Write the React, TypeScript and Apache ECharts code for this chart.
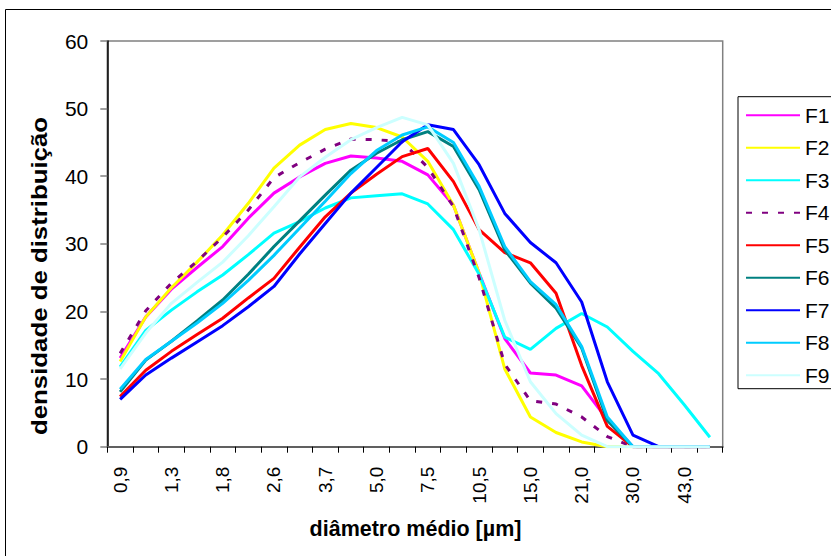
import { useEffect, useRef } from 'react';
import * as echarts from 'echarts';

const categories = ['0,9', '1,1', '1,3', '1,5', '1,8', '2,2', '2,6', '3,1', '3,7', '4,3', '5,0', '6,0', '7,5', '9,0', '10,5', '12,5', '15,0', '18,0', '21,0', '25,0', '30,0', '36,0', '43,0', '51,0'];

const seriesNames = ['F1', 'F2', 'F3', 'F4', 'F5', 'F6', 'F7', 'F8', 'F9'];

const F1 = [13.1, 19.2, 23.3, 26.5, 29.6, 33.8, 37.5, 39.9, 41.9, 43.0, 42.7, 42.2, 40.2, 35.7, 25.7, 16.0, 10.9, 10.6, 9.0, 4.0, 0, 0, 0, 0];
const F2 = [12.6, 19.2, 23.5, 27.3, 31.3, 36.0, 41.2, 44.6, 46.9, 47.8, 47.2, 45.8, 42.2, 35.7, 25.7, 11.5, 4.4, 2.1, 0.7, 0, 0, 0, 0, 0];
const F3 = [11.8, 17.2, 20.2, 22.9, 25.4, 28.4, 31.6, 33.3, 35.3, 36.8, 37.1, 37.4, 35.9, 32.1, 25.5, 16.2, 14.4, 17.5, 19.7, 17.7, 14.1, 10.8, 6.2, 1.4];
const F4 = [13.8, 20.1, 24.2, 27.4, 31.0, 35.0, 39.8, 42.0, 44.0, 45.5, 45.4, 45.1, 41.3, 35.5, 25.0, 12.2, 6.8, 6.3, 4.4, 1.5, 0, 0, 0, 0];
const F5 = [7.4, 11.3, 14.1, 16.6, 19.0, 22.0, 24.9, 29.5, 34.0, 37.5, 40.3, 42.9, 44.1, 39.2, 32.1, 28.7, 27.2, 22.7, 12.0, 3.0, 0, 0, 0, 0];
const F6 = [8.1, 12.8, 15.6, 18.6, 21.7, 25.5, 29.6, 33.4, 37.2, 40.9, 43.4, 45.4, 46.6, 44.4, 38.0, 29.1, 24.2, 20.5, 14.6, 3.9, 0, 0, 0, 0];
const F7 = [7.0, 10.6, 13.1, 15.5, 17.9, 20.7, 23.7, 28.5, 33.0, 37.5, 41.3, 45.1, 47.6, 46.9, 41.7, 34.5, 30.2, 27.2, 21.4, 9.6, 1.7, 0, 0, 0];
const F8 = [8.5, 12.9, 15.6, 18.3, 21.2, 24.6, 28.3, 32.3, 36.3, 40.4, 43.8, 46.1, 47.3, 45.0, 38.5, 29.6, 24.4, 21.0, 14.8, 4.4, 0, 0, 0, 0];
const F9 = [11.5, 16.8, 21.2, 24.3, 27.3, 31.2, 35.5, 39.9, 42.8, 45.4, 47.2, 48.7, 47.6, 41.9, 32.1, 18.7, 9.6, 4.9, 1.7, 0, 0, 0, 0, 0];

const seriesValues = [F1, F2, F3, F4, F5, F6, F7, F8, F9];
const seriesColors = ['#FF00FF', '#FFFF00', '#00FFFF', '#800080', '#FF0000', '#008080', '#0000FF', '#00CCFF', '#CCFFFF'];

const yTicks = { min: 0, max: 60, interval: 10 };

const FONT = '"Liberation Sans", Arial, sans-serif';

export default function App() {
  const ref = useRef<HTMLDivElement>(null);

  useEffect(() => {
    const chart = echarts.init(ref.current!, null, { renderer: 'svg' });
    chart.setOption({
      animation: false,
      backgroundColor: '#ffffff',
      grid: {
        left: 107.3,
        right: 108.3,
        top: 41,
        bottom: 109.3,
        show: true,
        borderColor: '#808080',
        borderWidth: 1.5,
        containLabel: false,
        outerBoundsMode: 'none',
      },
      legend: {
        orient: 'vertical',
        left: 738,
        top: 96.7,
        itemWidth: 54,
        itemHeight: 14,
        itemGap: 11.5,
        padding: [8, 40, 3, 7],
        borderColor: '#000',
        borderWidth: 1,
        itemStyle: { opacity: 0 },
        textStyle: { fontSize: 21, fontFamily: FONT, color: '#000', lineHeight: 21 },
        data: seriesNames,
      },
      xAxis: {
        type: 'category',
        data: categories,
        boundaryGap: true,
        axisLine: { show: true, lineStyle: { color: '#606060', width: 2 } },
        axisTick: { show: true, interval: 0, length: 6, inside: false, lineStyle: { color: '#000', width: 1 } },
        axisLabel: {
          interval: 1,
          rotate: 90,
          margin: 20,
          fontSize: 19,
          fontFamily: FONT,
          color: '#000',
        },
        splitLine: { show: false },
      },
      yAxis: {
        type: 'value',
        min: yTicks.min,
        max: yTicks.max,
        interval: yTicks.interval,
        axisLine: { show: true, lineStyle: { color: '#000', width: 1.5 } },
        axisTick: { show: true, length: 7, inside: false, lineStyle: { color: '#808080', width: 1.5 } },
        axisLabel: { margin: 19, fontSize: 21, fontFamily: FONT, color: '#000' },
        splitLine: { show: false },
      },
      graphic: [
        {
          type: 'rect',
          silent: true,
          shape: { x: 5.5, y: 9.5, width: 1000, height: 1000 },
          style: { fill: 'none', stroke: '#000', lineWidth: 1 },
        },
        {
          type: 'text',
          silent: true,
          x: 40,
          y: 276,
          rotation: Math.PI / 2,
          scaleX: 1.2,
          style: {
            text: 'densidade de distribuição',
            font: `bold 21.5px ${FONT}`,
            fill: '#000',
            align: 'center',
            verticalAlign: 'middle',
            textAlign: 'center',
            textVerticalAlign: 'middle',
          },
        },
        {
          type: 'text',
          silent: true,
          x: 415.5,
          y: 529,
          style: {
            text: 'diâmetro médio [µm]',
            font: `bold 21.5px ${FONT}`,
            fill: '#000',
            align: 'center',
            verticalAlign: 'middle',
            textAlign: 'center',
            textVerticalAlign: 'middle',
          },
        },
      ],
      series: seriesNames.map((name, i) => ({
        name,
        type: 'line',
        data: seriesValues[i],
        symbol: 'none',
        showSymbol: false,
        smooth: false,
        color: seriesColors[i],
        lineStyle: {
          color: seriesColors[i],
          width: 3,
          type: name === 'F4' ? [6, 10] : 'solid',
        },
        itemStyle: { color: seriesColors[i] },
        emphasis: { disabled: true },
      })),
    });
    return () => chart.dispose();
  }, []);

  return <div ref={ref} style={{ position: 'absolute', left: 0, top: 0, width: 831, height: 556 }} />;
}
